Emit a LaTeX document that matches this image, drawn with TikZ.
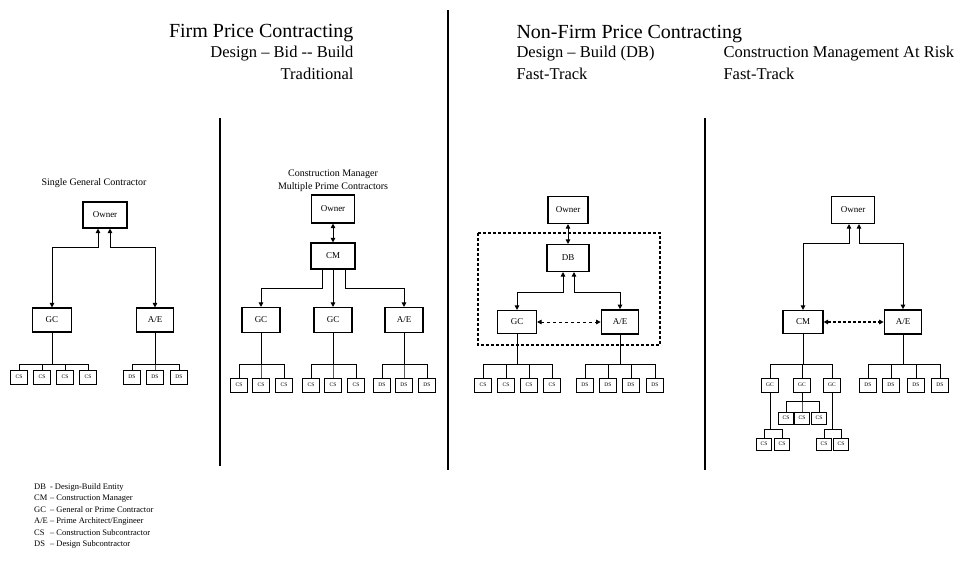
\documentclass[tikz,border=0pt]{standalone}
\usepackage{fontspec}
\setmainfont{Liberation Serif}
\usetikzlibrary{arrows.meta}
\begin{document}
\begin{tikzpicture}[x=1pt,y=-1pt,
  >={Triangle[length=4.5pt,width=4.5pt]},
  box/.style={draw,line width=1.1pt,inner sep=0pt,font=\fontsize{9}{10}\selectfont,minimum width=40pt,minimum height=25pt},
  thickbox/.style={box,line width=1.7pt},
  sbox/.style={draw,line width=1pt,inner sep=0pt,minimum width=17pt,minimum height=14pt,font=\fontsize{5.5}{6}\selectfont},
  tbox/.style={sbox,minimum width=15pt,minimum height=12pt},
  ln/.style={line width=1pt},
  divider/.style={line width=1.1pt},
  title/.style={font=\fontsize{20}{24}\selectfont},
  sub/.style={font=\fontsize{16.5}{20}\selectfont},
  head/.style={font=\fontsize{10}{13}\selectfont,align=center},
  dbox/.style={line width=1.2pt,dash pattern=on 3pt off 2pt}
]
\useasboundingbox (0,0) rectangle (964,563);
\fill[white] (0,0) rectangle (964,563);

% dividers
\coordinate (d1t) at (220,118); \coordinate (d1b) at (220,466);
\coordinate (d2t) at (448,10);  \coordinate (d2b) at (448,470);
\coordinate (d3t) at (705,118); \coordinate (d3b) at (705,470);
\draw[divider] (d1t) -- (d1b);
\draw[divider] (d2t) -- (d2b);
\draw[divider] (d3t) -- (d3b);

% titles
\node[title,anchor=base east] (t1) at (357,37) {Firm Price Contracting};
\node[sub,anchor=base east] (t1a) at (357,57) {Design – Bid -{}- Build};
\node[sub,anchor=base east] (t1b) at (357,79) {Traditional};
\node[title,anchor=base west] (t2) at (513,38) {Non-Firm Price Contracting};
\node[sub,anchor=base west] (t2a) at (513,57) {Design – Build (DB)};
\node[sub,anchor=base west] (t2b) at (513,79) {Fast-Track};
\node[sub,anchor=base west] (t3a) at (720,57) {Construction Management At Risk};
\node[sub,anchor=base west] (t3b) at (720,79) {Fast-Track};

% panel headings
\node[head] (h1) at (94,183) {Single General Contractor};
\node[head] (h2) at (333,181) {Construction Manager\\Multiple Prime Contractors};

% ---------- panel 1 ----------
\node[box,minimum width=44pt,minimum height=26pt] (o1) at (105,215) {Owner};
\node[box,minimum width=39pt,minimum height=24pt] (gc1) at (52,320) {GC};
\node[box,minimum width=37pt,minimum height=24pt] (ae1) at (155,320) {A/E};
\draw[ln,<->] ([xshift=-7pt]o1.south) -- ++(0,19) -| (gc1.north);
\draw[ln,<->] ([xshift=5pt]o1.south) -- ++(0,19) -| (ae1.north);
\foreach \x/\n in {19/a,42/b,65/c,88/d}{
  \node[sbox] (cs1\n) at (\x,377) {CS};
  \draw[ln] (cs1\n.north) -- ++(0,-5) -| (gc1.south);
}
\foreach \x/\n in {132/a,155/b,179/c}{
  \node[sbox] (ds1\n) at (\x,377) {DS};
  \draw[ln] (ds1\n.north) -- ++(0,-5) -| (ae1.south);
}

% ---------- panel 2 ----------
\node[box,minimum width=43pt,minimum height=28pt] (o2) at (333,209) {Owner};
\node[box,minimum width=44pt,minimum height=26pt] (cm2) at (333,256) {CM};
\node[box,minimum width=38pt,minimum height=25pt] (gc2a) at (261,320) {GC};
\node[box,minimum width=38pt,minimum height=25pt] (gc2b) at (333,320) {GC};
\node[box,minimum width=38pt,minimum height=25pt] (ae2) at (404,320) {A/E};
\draw[ln,<->] (o2) -- (cm2);
\draw[ln,->] ([xshift=-11pt]cm2.south) -- ++(0,19) -| (gc2a.north);
\draw[ln,->] (cm2.south) -- (gc2b.north);
\draw[ln,->] ([xshift=12pt]cm2.south) -- ++(0,19) -| (ae2.north);
\foreach \x/\n in {239/a,261/b,284/c}{
  \node[sbox] (cs2a\n) at (\x,385) {CS};
  \draw[ln] (cs2a\n.north) -- ++(0,-13) -| (gc2a.south);
}
\foreach \x/\n in {311/a,333/b,356/c}{
  \node[sbox] (cs2b\n) at (\x,385) {CS};
  \draw[ln] (cs2b\n.north) -- ++(0,-13) -| (gc2b.south);
}
\foreach \x/\n in {382/a,404/b,427/c}{
  \node[sbox] (ds2\n) at (\x,385) {DS};
  \draw[ln] (ds2\n.north) -- ++(0,-13) -| (ae2.south);
}

% ---------- panel 3 ----------
\draw[dbox] (478,233) rectangle (660,345);
\node[box,minimum width=40pt,minimum height=27pt] (o3) at (568,210) {Owner};
\node[box,minimum width=42pt,minimum height=27pt] (db3) at (568,258) {DB};
\node[box,minimum width=39pt,minimum height=23pt] (gc3) at (517,322) {GC};
\node[thickbox,minimum width=37pt,minimum height=24pt] (ae3) at (620,322) {A/E};
\draw[ln,<->] (o3) -- (db3);
\draw[ln,<->] ([xshift=-5pt]db3.south) -- ++(0,20) -| (gc3.north);
\draw[ln,<->] ([xshift=6pt]db3.south) -- ++(0,20) -| (ae3.north);
\draw[ln,<->,dashed] (gc3) -- (ae3);
\foreach \x/\n in {483/a,506/b,529/c,552/d}{
  \node[sbox] (cs3\n) at (\x,385) {CS};
  \draw[ln] (cs3\n.north) -- ++(0,-13) -| (gc3.south);
}
\foreach \x/\n in {585/a,608/b,631/c,655/d}{
  \node[sbox] (ds3\n) at (\x,385) {DS};
  \draw[ln] (ds3\n.north) -- ++(0,-13) -| (ae3.south);
}

% ---------- panel 4 ----------
\node[box,minimum width=43pt,minimum height=27pt] (o4) at (853,210) {Owner};
\node[box,minimum width=40pt,minimum height=23pt] (cm4) at (803,322) {CM};
\node[thickbox,minimum width=37pt,minimum height=24pt] (ae4) at (903,322) {A/E};
\draw[ln,<->] ([xshift=-4pt]o4.south) -- ++(0,19) -| (cm4.north);
\draw[ln,<->] ([xshift=6pt]o4.south) -- ++(0,19) -| (ae4.north);
\draw[<->,line width=1.4pt,dash pattern=on 3pt off 2pt] (cm4) -- (ae4);
\foreach \x/\n in {770/a,802/b,832/c}{
  \node[sbox] (gc4\n) at (\x,385) {GC};
  \draw[ln] (gc4\n.north) -- ++(0,-13) -| (cm4.south);
}
\foreach \x/\n in {868/a,891/b,916/c,940/d}{
  \node[sbox] (ds4\n) at (\x,385) {DS};
  \draw[ln] (ds4\n.north) -- ++(0,-13) -| (ae4.south);
}
\foreach \x/\n in {764/a,782/b}{
  \node[tbox] (cs4a\n) at (\x,444) {CS};
  \draw[ln] (cs4a\n.north) -- ++(0,-8) -| (gc4a.south);
}
\foreach \x/\n in {786/a,802/b,819/c}{
  \node[tbox] (cs4b\n) at (\x,418) {CS};
  \draw[ln] (cs4b\n.north) -- ++(0,-10) -| (gc4b.south);
}
\foreach \x/\n in {824/a,841/b}{
  \node[tbox] (cs4c\n) at (\x,444) {CS};
  \draw[ln] (cs4c\n.north) -- ++(0,-8) -| (gc4c.south);
}

% legend
\node[anchor=north west,inner sep=0pt,font=\fontsize{8.5}{11.5}\selectfont] (leg) at (34,481) {%
\begin{tabular}{@{}l@{\ }l@{}}
DB & - Design-Build Entity\\
CM & – Construction Manager\\
GC & – General or Prime Contractor\\
A/E & – Prime Architect/Engineer\\
CS & – Construction Subcontractor\\
DS & – Design Subcontractor
\end{tabular}};
\end{tikzpicture}
\end{document}
